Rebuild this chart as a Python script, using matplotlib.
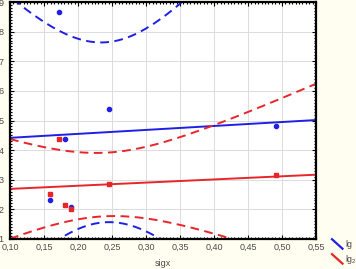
import numpy as np
import matplotlib
matplotlib.use("Agg")
import matplotlib.pyplot as plt
from matplotlib.ticker import FixedLocator, AutoMinorLocator
from matplotlib.legend_handler import HandlerBase
from matplotlib.lines import Line2D

plt.rcParams['font.family'] = ['Liberation Sans', 'DejaVu Sans']
plt.rcParams['mathtext.default'] = 'regular'

# ---- data ----
sigx = [0.159, 0.172, 0.181, 0.190, 0.246, 0.491]
lg = [2.31, 8.66, 4.37, 2.07, 5.39, 4.81]
lg2 = [2.51, 4.36, 2.15, 2.02, 2.84, 3.16]
series_names = ['lg', 'lg$_2$']
x_ticks = [0.10, 0.15, 0.20, 0.25, 0.30, 0.35, 0.40, 0.45, 0.50, 0.55]
x_tick_labels = ['0,10', '0,15', '0,20', '0,25', '0,30', '0,35', '0,40', '0,45', '0,50', '0,55']
y_ticks = [1, 2, 3, 4, 5, 6, 7, 8, 9]
y_tick_labels = ['1', '2', '3', '4', '5', '6', '7', '8', '9']
T_975_DF4 = 2.7764  # Student t quantile, 95% two-sided, n-2 = 4 dof

BLUE = '#1f1fe6'
RED = '#e8262a'


def fit_band(x, y, xs):
    x = np.asarray(x)
    y = np.asarray(y)
    n = len(x)
    b, a = np.polyfit(x, y, 1)
    yhat = a + b * xs
    resid = y - (a + b * x)
    s = np.sqrt(np.sum(resid ** 2) / (n - 2))
    sxx = np.sum((x - x.mean()) ** 2)
    hw = T_975_DF4 * s * np.sqrt(1.0 / n + (xs - x.mean()) ** 2 / sxx)
    return yhat, yhat - hw, yhat + hw


class DiagHandler(HandlerBase):
    def create_artists(self, legend, orig_handle, xdescent, ydescent,
                       width, height, fontsize, trans):
        l = Line2D([-xdescent, width - xdescent],
                   [height - ydescent + 1, -ydescent - 1],
                   color=orig_handle.get_color(), lw=1.6, transform=trans)
        return [l]


fig = plt.figure(figsize=(3.56, 2.69), dpi=100, facecolor='#fffef0')
ax = fig.add_axes([10 / 356, 1 - 239 / 269, 306 / 356, 237 / 269])
ax.set_facecolor('white')

xs = np.linspace(x_ticks[0], x_ticks[-1], 300)
handles = []
for yv, col, mk, ms, name in [(lg, BLUE, 'o', 3.0, series_names[0]),
                               (lg2, RED, 's', 2.8, series_names[1])]:
    yhat, lo, hi = fit_band(sigx, yv, xs)
    h, = ax.plot(xs, yhat, color=col, lw=1.4, label=name)
    ax.plot(xs, lo, color=col, lw=1.4, dashes=(4.5, 2.8))
    ax.plot(xs, hi, color=col, lw=1.4, dashes=(4.5, 2.8))
    ax.plot(sigx, yv, linestyle='none', marker=mk, ms=ms, color=col, mec=col)
    handles.append(h)

ax.set_xlim(x_ticks[0], x_ticks[-1])
ax.set_ylim(y_ticks[0], y_ticks[-1])
ax.xaxis.set_major_locator(FixedLocator(x_ticks))
ax.yaxis.set_major_locator(FixedLocator(y_ticks))
ax.set_xticklabels(x_tick_labels)
ax.set_yticklabels(y_tick_labels)
ax.xaxis.set_minor_locator(AutoMinorLocator(10))
ax.yaxis.set_minor_locator(AutoMinorLocator(10))
ax.tick_params(which='both', direction='in', top=True, right=True,
               colors='black', labelcolor='#4a4a4a', labelsize=6.5)
ax.tick_params(which='major', length=3, width=0.8)
ax.tick_params(which='minor', length=1.6, width=0.8)
ax.tick_params(axis='y', pad=4.5)
ax.tick_params(axis='x', pad=3)
ax.grid(True, which='major', color='#dcdcdc', lw=0.7)
ax.set_axisbelow(True)
for sp in ax.spines.values():
    sp.set_linewidth(1.6)
    sp.set_color('black')

ax.set_xlabel('sigx', fontsize=6.5, color='#4a4a4a', labelpad=5)

fig.legend(handles=handles, labels=series_names,
           handler_map={Line2D: DiagHandler()},
           loc='upper left', bbox_to_anchor=(332 / 356, 1 - 240 / 269),
           frameon=False, fontsize=6.3, handlelength=1.2, handleheight=0.8,
           handletextpad=0.3, labelspacing=0.45, borderpad=0, borderaxespad=0,
           labelcolor='#4a4a4a')

fig.savefig('out.png', dpi=100, facecolor=fig.get_facecolor())
